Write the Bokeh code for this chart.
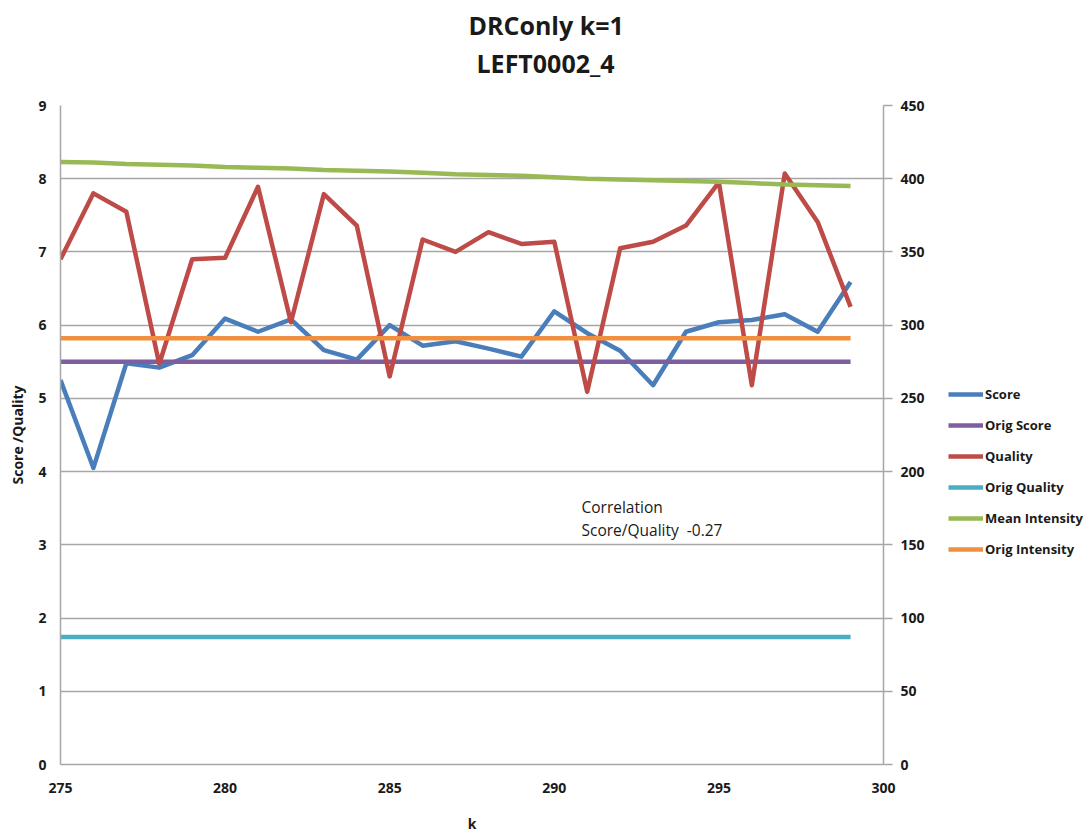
from bokeh.plotting import figure
from bokeh.layouts import row
from bokeh.models import (Range1d, LinearAxis, SingleIntervalTicker,
                          Legend, LegendItem, Label, Title)
from bokeh.embed import file_html
from bokeh.resources import INLINE

# k values along the x axis
k = list(range(275, 300))

# left axis series (Score scale 0-9)
score = [5.25, 4.05, 5.48, 5.42, 5.59, 6.09, 5.91, 6.08, 5.66, 5.53,
         6.00, 5.72, 5.78, 5.68, 5.57, 6.19, 5.89, 5.65, 5.18, 5.91,
         6.04, 6.07, 6.15, 5.91, 6.59]
orig_score = [5.5] * len(k)

# right axis series (0-450)
quality = [345, 390, 377.5, 273.5, 345, 346, 394.5, 302, 389.5, 368,
           265, 358.5, 350, 363.5, 355.5, 357, 254.5, 352.5, 357, 368,
           397.5, 259, 403.5, 370.5, 312.5]
orig_quality = [87] * len(k)
mean_intensity = [411.5, 411, 410, 409.5, 409, 408, 407.5, 407, 406, 405.5,
                  405, 404, 403, 402.5, 402, 401, 400, 399.5, 399, 398.5,
                  398, 397, 396, 395.5, 395]
orig_intensity = [291] * len(k)

series_names = ["Score", "Orig Score", "Quality", "Orig Quality",
                "Mean Intensity", "Orig Intensity"]
series_colors = ["#4A7EBB", "#7D5FA0", "#BE4B48", "#4BACC6", "#98B954", "#F08F40"]

correlation = -0.27

FONT = "Open Sans"
GRID = "#a6a6a6"
TXT = "#1a1a1a"
LW = 4.5

p = figure(width=930, height=836, output_backend="svg", toolbar_location=None,
           x_range=Range1d(275, 300), y_range=Range1d(0, 9),
           min_border_left=60, min_border_right=47, min_border_top=105,
           min_border_bottom=72, background_fill_color="white",
           border_fill_color="white", outline_line_color=None)
p.extra_y_ranges = {"right": Range1d(0, 450)}

# two-line title, centred over the whole chart, with a blank band between
# it and the plot area
p.add_layout(Title(text=" ", text_font=FONT, text_font_size="8px",
                   standoff=12), "above")
sub_title = Title(text="LEFT0002_4", align="left", offset=416,
                  text_font=FONT, text_font_size="25px",
                  text_font_style="bold", text_color=TXT, standoff=2)
p.add_layout(sub_title, "above")
p.title.text = "DRConly k=1"
p.title.align = "left"
p.title.offset = 408
p.title.text_font = FONT
p.title.text_font_size = "25px"
p.title.text_font_style = "bold"
p.title.text_color = TXT
p.title.standoff = 2

# axes
xa = p.below[0]
xa.ticker = SingleIntervalTicker(interval=5)
xa.axis_label = "k"
ya = p.left[0]
ya.ticker = SingleIntervalTicker(interval=1)
ya.axis_label = "Score /Quality"

ra = LinearAxis(y_range_name="right", ticker=SingleIntervalTicker(interval=50))
p.add_layout(ra, "right")

for ax in (xa, ya, ra):
    ax.axis_line_color = GRID
    ax.axis_line_width = 1.5
    ax.major_tick_line_color = GRID
    ax.major_tick_line_width = 1.5
    ax.major_tick_in = 0
    ax.major_tick_out = 0
    ax.minor_tick_line_color = None
    ax.minor_tick_in = 0
    ax.minor_tick_out = 0
    ax.major_label_text_font = FONT
    ax.major_label_text_font_size = "14px"
    ax.major_label_text_font_style = "bold"
    ax.major_label_text_color = TXT
    ax.axis_label_text_font = FONT
    ax.axis_label_text_font_size = "14px"
    ax.axis_label_text_font_style = "bold"
    ax.axis_label_text_color = TXT

xa.major_label_standoff = 18
xa.axis_label_standoff = 18
ya.major_label_standoff = 14
ya.axis_label_standoff = 8
ra.major_tick_out = 9
ra.major_label_standoff = 8

p.xgrid.grid_line_color = None
p.ygrid.grid_line_color = GRID
p.ygrid.grid_line_width = 1.5

p.line(k, score, line_color=series_colors[0], line_width=LW, line_join="round")
p.line(k, orig_score, line_color=series_colors[1], line_width=LW)
p.line(k, quality, y_range_name="right", line_color=series_colors[2],
       line_width=LW, line_join="round")
p.line(k, orig_quality, y_range_name="right", line_color=series_colors[3],
       line_width=LW)
p.line(k, mean_intensity, y_range_name="right", line_color=series_colors[4],
       line_width=LW, line_join="round")
p.line(k, orig_intensity, y_range_name="right", line_color=series_colors[5],
       line_width=LW)

# correlation note
note_style = dict(x_units="screen", y_units="screen", text_font=FONT,
                  text_font_size="15.5px", text_color=TXT,
                  text_baseline="middle", text_align="left")
p.add_layout(Label(x=521, y=258, text="Correlation", **note_style))
p.add_layout(Label(x=521, y=235,
                   text=f"Score/Quality\u00a0\u00a0{correlation:.2f}",
                   **note_style))

# legend panel beside the chart (its frame lines up with the chart's)
lf = figure(width=161, height=836, output_backend="svg", toolbar_location=None,
            x_range=Range1d(0, 1), y_range=Range1d(0, 1),
            x_axis_location=None, y_axis_location=None,
            min_border=0, outline_line_color=None,
            background_fill_color="white", border_fill_color="white")
lf.grid.visible = False
nan = float("nan")
items = []
for name, color in zip(series_names, series_colors):
    swatch = lf.line([nan], [nan], line_color=color, line_width=LW)
    items.append(LegendItem(label=name, renderers=[swatch]))

legend = Legend(items=items, location=(18, 205), orientation="vertical")
legend.border_line_color = None
legend.background_fill_alpha = 0
legend.padding = 0
legend.margin = 0
legend.spacing = 11
legend.glyph_width = 35
legend.glyph_height = 20
legend.label_height = 20
legend.label_standoff = 2
legend.label_text_font = FONT
legend.label_text_font_size = "13px"
legend.label_text_font_style = "bold"
legend.label_text_color = TXT
legend.label_text_baseline = "middle"
lf.add_layout(legend, "center")

layout = row(p, lf, spacing=0)
open("out.html", "w").write(file_html(layout, INLINE))
